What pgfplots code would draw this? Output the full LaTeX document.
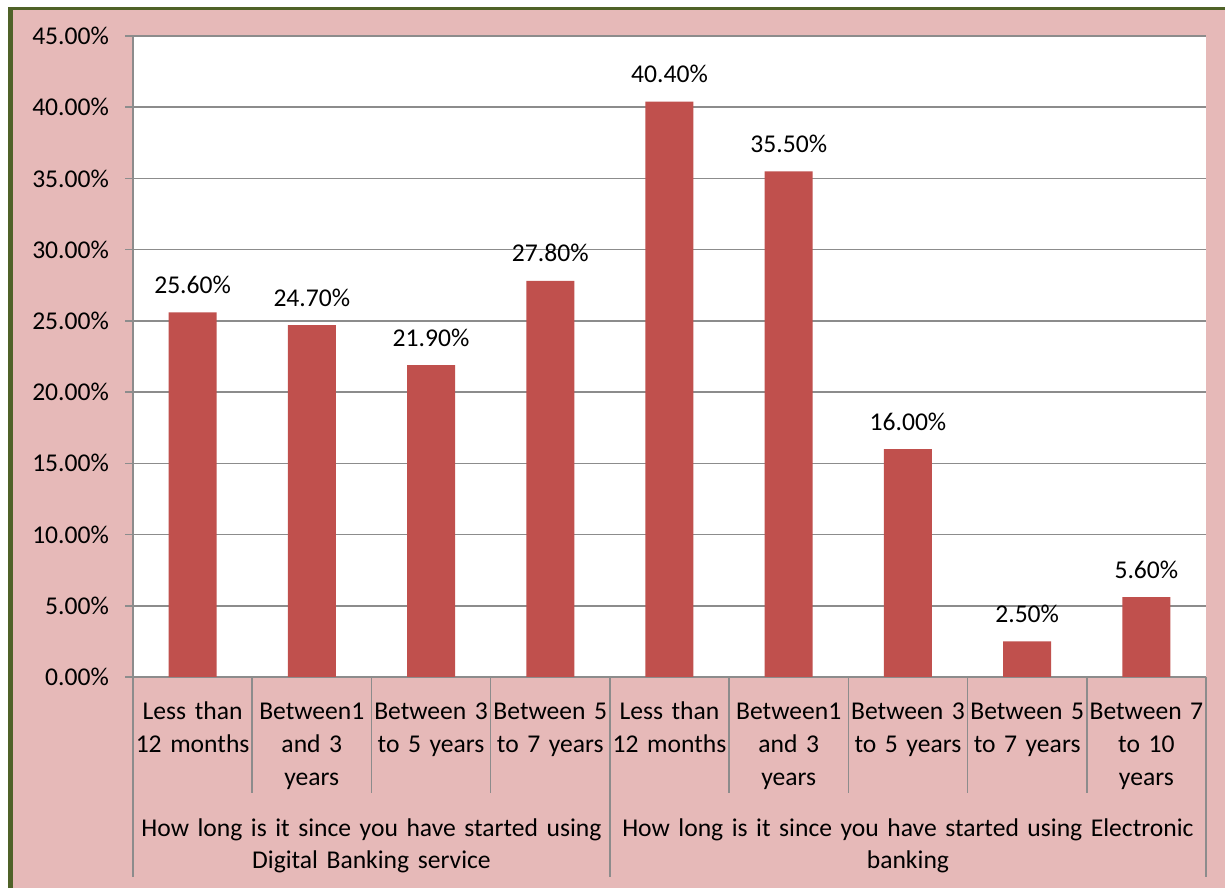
\documentclass[border=0pt]{standalone}
\usepackage{fontspec}
\setmainfont{Carlito}
\usepackage{pgfplots}
\pgfplotsset{compat=1.18}
\definecolor{bgpink}{HTML}{E6B9B8}
\definecolor{barred}{HTML}{C0504D}
\definecolor{frgreen}{HTML}{4F6228}
\definecolor{gridgray}{HTML}{8C8C8C}
\begin{document}
\begin{tikzpicture}[font=\fontsize{12.8pt}{16.4pt}\selectfont]
\useasboundingbox (0,0) rectangle (612.5pt,444pt);
\fill[white] (0,0) rectangle (612.5pt,444pt);
\fill[bgpink] (5pt,0) rectangle (612.5pt,440pt);
\draw[frgreen,line width=1.7pt] (4.2pt,439.85pt) -- (612.5pt,439.85pt);
\draw[frgreen,line width=2.2pt] (5.25pt,0) -- (5.25pt,440.7pt);
\begin{axis}[
  at={(66.5pt,105.5pt)}, anchor=south west,
  scale only axis, width=536.5pt, height=320.5pt,
  xmin=-0.5, xmax=8.5, ymin=0, ymax=45,
  clip=false,
  axis background/.style={fill=white},
  axis x line=bottom, axis y line=left,
  axis line style={gridgray, line width=0.75pt, -},
  every outer x axis line/.append style={-},
  every outer y axis line/.append style={-},
  ybar, bar width=24pt,
  /pgf/number format/assume math mode=true,
  ytick={0,5,10,15,20,25,30,35,40,45},
  yticklabels={0.00\%,5.00\%,10.00\%,15.00\%,20.00\%,25.00\%,30.00\%,35.00\%,40.00\%,45.00\%},
  tick align=outside, major tick length=4pt,
  ytick style={gridgray, line width=0.75pt},
  xtick style={draw=none},
  ymajorgrids, grid style={gridgray, line width=0.75pt},
  yticklabel style={anchor=east, xshift=-4.5pt},
  xtick=data,
  xticklabels={{Less than\\12 months},{Between1\\and 3\\years},{Between 3\\to 5 years},{Between 5\\to 7 years},{Less than\\12 months},{Between1\\and 3\\years},{Between 3\\to 5 years},{Between 5\\to 7 years},{Between 7\\to 10\\years}},
  xticklabel style={text width=59pt, align=center, anchor=base, yshift=-17.5pt, inner sep=0pt},
  nodes near coords={\pgfmathprintnumber[fixed,fixed zerofill,precision=2]{\pgfplotspointmeta}\%},
  every node near coord/.append style={anchor=base, yshift=9.5pt, inner sep=0pt, black},
]
\addplot[fill=barred, draw=none] coordinates {
  (0,25.6) (1,24.7) (2,21.9) (3,27.8) (4,40.4) (5,35.5) (6,16.0) (7,2.5) (8,5.6)
};
\pgfplotsinvokeforeach{0.5,1.5,2.5,4.5,5.5,6.5,7.5}{
  \draw[gridgray, line width=0.75pt] (axis cs:#1,0) -- ++(0pt,-58pt);
}
\pgfplotsinvokeforeach{-0.5,3.5,8.5}{
  \draw[gridgray, line width=0.75pt] (axis cs:#1,0) -- ++(0pt,-100pt);
}
\node[anchor=base, text width=236pt, align=center, inner sep=0pt, yshift=-79.5pt] at (axis cs:1.5,0) {How long is it since you have started using\\Digital Banking service};
\node[anchor=base, text width=296pt, align=center, inner sep=0pt, yshift=-79.5pt] at (axis cs:6,0) {How long is it since you have started using Electronic\\banking};
\end{axis}
\end{tikzpicture}
\end{document}
